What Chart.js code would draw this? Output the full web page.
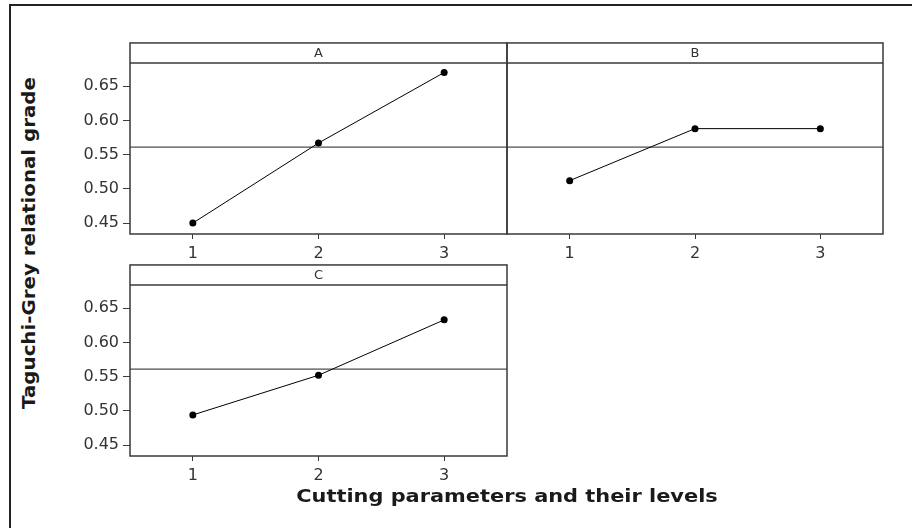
<!DOCTYPE html>
<html>
<head>
<meta charset="utf-8">
<script src="https://cdn.jsdelivr.net/npm/chart.js@4/dist/chart.umd.min.js"></script>
<style>
  html, body { margin: 0; padding: 0; width: 912px; height: 528px; overflow: hidden; background: #fff; }
  .frame { position: absolute; left: 9px; top: 4px; width: 1000px; height: 1000px; border: 2px solid #222; }
  .panel { position: absolute; }
  .ytitle { position: absolute; left: 28px; top: 243px; transform: translate(-50%, -50%) rotate(-90deg) scaleX(1.1);
            white-space: nowrap; font: bold 18px "DejaVu Sans", sans-serif; color: #1a1a1a; }
  .xtitle { position: absolute; left: 507px; top: 495px; transform: translate(-50%, -50%) scaleX(1.16);
            white-space: nowrap; font: bold 18px "DejaVu Sans", sans-serif; color: #1a1a1a; }
</style>
</head>
<body>
<div class="frame"></div>
<div class="panel" style="left:70px;top:42px;width:438px;height:222px"><canvas id="pA"></canvas></div>
<div class="panel" style="left:506px;top:42px;width:378px;height:222px"><canvas id="pB"></canvas></div>
<div class="panel" style="left:70px;top:264px;width:438px;height:222px"><canvas id="pC"></canvas></div>
<div class="ytitle">Taguchi-Grey relational grade</div>
<div class="xtitle">Cutting parameters and their levels</div>
<script>
// factor levels and mean grey relational grade at each level
const levels = [1, 2, 3];
const gradeA = [0.450, 0.567, 0.670];
const gradeB = [0.512, 0.588, 0.588];
const gradeC = [0.494, 0.552, 0.633];
const overallMean = 0.561;
const yTicks = [0.45, 0.50, 0.55, 0.60, 0.65];

Chart.defaults.font.family = '"DejaVu Sans", sans-serif';
Chart.defaults.color = '#333';

const STRIP = 20;
const frameLine = '#3a3a3a';

// panel box with the header strip above the plot area
const framePlugin = {
    id: 'frame',
    afterDraw(chart) {
        const ctx = chart.ctx, a = chart.chartArea;
        ctx.save();
        ctx.strokeStyle = frameLine;
        ctx.lineWidth = 1.5;
        ctx.strokeRect(a.left, a.top - STRIP, a.right - a.left, a.bottom - a.top + STRIP);
        ctx.beginPath();
        ctx.moveTo(a.left, a.top);
        ctx.lineTo(a.right, a.top);
        ctx.stroke();
        ctx.restore();
    }
};

function makePanel(id, name, values, showY, padLeft) {
    new Chart(document.getElementById(id), {
        type: 'line',
        data: {
            datasets: [
                {
                    data: levels.map((l, i) => ({x: l, y: values[i]})),
                    borderColor: '#000',
                    borderWidth: 1,
                    pointRadius: 3.5,
                    pointBackgroundColor: '#000',
                    pointBorderWidth: 0,
                    tension: 0
                },
                {
                    data: [{x: 0.5, y: overallMean}, {x: 3.5, y: overallMean}],
                    borderColor: '#222',
                    borderWidth: 1,
                    pointRadius: 0
                }
            ]
        },
        options: {
            responsive: true,
            maintainAspectRatio: false,
            animation: false,
            layout: {autoPadding: false, padding: {top: 1, right: 1, left: padLeft, bottom: 0}},
            plugins: {
                legend: {display: false},
                tooltip: {enabled: false},
                title: {
                    display: true,
                    text: name,
                    fullSize: false,
                    color: '#333',
                    font: {size: 13, weight: 'normal', lineHeight: 1.15},
                    padding: {top: 3, bottom: 2}
                }
            },
            scales: {
                x: {
                    type: 'linear',
                    min: 0.5,
                    max: 3.5,
                    afterBuildTicks: s => { s.ticks = levels.map(v => ({value: v})); },
                    afterFit: s => { s.height = 30; s.paddingLeft = 0; s.paddingRight = 0; },
                    grid: {drawOnChartArea: false, drawTicks: true, tickLength: 5, color: frameLine},
                    border: {display: false},
                    ticks: {font: {size: 16}, padding: 5, color: '#333', maxRotation: 0}
                },
                y: {
                    display: showY,
                    min: 0.434,
                    max: 0.684,
                    afterBuildTicks: s => { s.ticks = yTicks.map(v => ({value: v})); },
                    afterFit: s => { if (showY) s.width = 60; },
                    grid: {drawOnChartArea: false, drawTicks: true, tickLength: 7, color: frameLine},
                    border: {display: false},
                    ticks: {font: {size: 16}, padding: 4, color: '#333', callback: v => v.toFixed(2)}
                }
            }
        },
        plugins: [framePlugin]
    });
}

makePanel('pA', 'A', gradeA, true, 0);
makePanel('pB', 'B', gradeB, false, 1);
makePanel('pC', 'C', gradeC, true, 0);
</script>
</body>
</html>
